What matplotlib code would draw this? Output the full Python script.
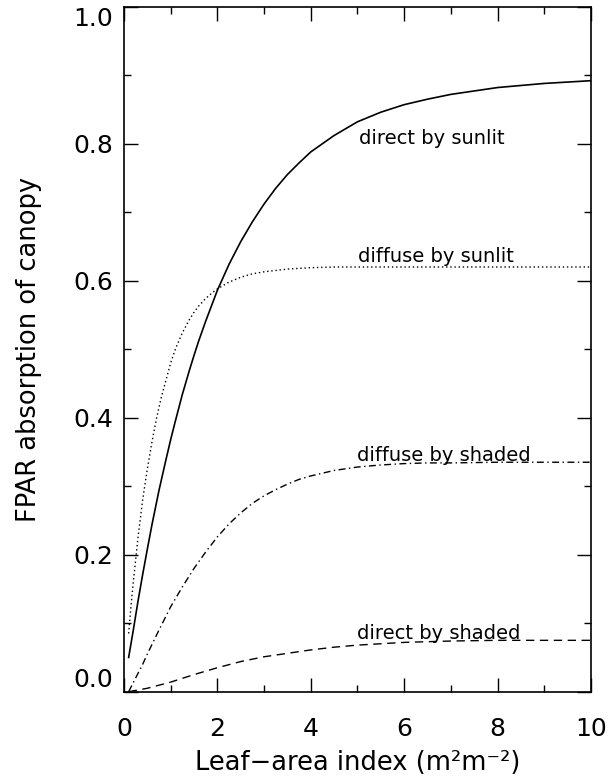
import matplotlib
matplotlib.use('Agg')
import matplotlib.pyplot as plt

# values
lai_dir_sun = [0.1, 0.2, 0.3, 0.4, 0.5, 0.6, 0.75, 0.9, 1.0, 1.1, 1.25, 1.4, 1.5, 1.6, 1.75,
               1.9, 2.0, 2.25, 2.5, 2.75, 3.0, 3.25, 3.5, 3.75, 4.0, 4.5, 5.0, 5.5, 6.0,
               6.5, 7.0, 7.5, 8.0, 8.5, 9.0, 9.5, 10.0]
direct_sunlit = [0.05, 0.09, 0.132, 0.171, 0.208, 0.244, 0.294, 0.339, 0.368, 0.395, 0.434,
                 0.469, 0.491, 0.512, 0.541, 0.568, 0.586, 0.624, 0.657, 0.686, 0.712, 0.735,
                 0.755, 0.772, 0.788, 0.812, 0.832, 0.846, 0.857, 0.865, 0.872, 0.877,
                 0.882, 0.885, 0.888, 0.890, 0.892]

lai_dif_sun = [0.1, 0.15, 0.2, 0.3, 0.4, 0.5, 0.6, 0.7, 0.8, 0.9, 1.0, 1.1, 1.25, 1.4, 1.5,
               1.6, 1.75, 1.9, 2.0, 2.25, 2.5, 2.75, 3.0, 3.5, 4.0, 4.5, 5.0, 6.0, 7.0,
               8.0, 9.0, 10.0]
diffuse_sunlit = [0.085, 0.125, 0.16, 0.225, 0.28, 0.325, 0.365, 0.40, 0.43, 0.455, 0.48,
                  0.50, 0.524, 0.543, 0.554, 0.563, 0.574, 0.583, 0.588, 0.598, 0.605, 0.61,
                  0.613, 0.617, 0.619, 0.62, 0.62, 0.62, 0.62, 0.62, 0.62, 0.62]

lai_dif_sha = [0.1, 0.25, 0.4, 0.5, 0.75, 1.0, 1.25, 1.5, 1.75, 2.0, 2.25, 2.5, 2.75, 3.0,
               3.25, 3.5, 3.75, 4.0, 4.5, 5.0, 5.5, 6.0, 6.5, 7.0, 8.0, 9.0, 10.0]
diffuse_shaded = [0.0, 0.02, 0.04, 0.055, 0.09, 0.124, 0.153, 0.18, 0.204, 0.226, 0.245,
                  0.261, 0.275, 0.286, 0.295, 0.303, 0.31, 0.315, 0.323, 0.328, 0.331, 0.333,
                  0.334, 0.334, 0.335, 0.335, 0.335]

lai_dir_sha = [0.1, 0.5, 1.0, 1.5, 2.0, 2.5, 3.0, 3.5, 4.0, 4.5, 5.0, 5.5, 6.0, 7.0, 8.0,
               9.0, 10.0]
direct_shaded = [0.0, 0.005, 0.014, 0.025, 0.035, 0.044, 0.051, 0.056, 0.061, 0.065, 0.068,
                 0.070, 0.072, 0.074, 0.075, 0.075, 0.075]

labels = ['direct by sunlit', 'diffuse by sunlit', 'diffuse by shaded', 'direct by shaded']
label_x = [5.04, 5.02, 5.0, 5.0]
label_y = [0.80, 0.628, 0.337, 0.077]

xticks = [0, 2, 4, 6, 8, 10]
yticks = [0.0, 0.2, 0.4, 0.6, 0.8, 1.0]

plt.rcParams['font.family'] = ['DejaVu Sans']

fig = plt.figure(figsize=(6.08, 7.8), dpi=100)
ax = fig.add_axes([0.2039, 0.1132, 0.7681, 0.8782])

ax.plot(lai_dir_sun, direct_sunlit, color='black', lw=1.2, ls='-')
ax.plot(lai_dif_sun, diffuse_sunlit, color='black', lw=1.0, ls=(0, (1, 2)))
ax.plot(lai_dif_sha, diffuse_shaded, color='black', lw=1.0, ls=(0, (5, 2.5, 1, 2.5)))
ax.plot(lai_dir_sha, direct_shaded, color='black', lw=1.0, ls=(0, (6, 4)))

for txt, tx, ty in zip(labels, label_x, label_y):
    ax.text(tx, ty, txt, fontsize=14, ha='left', va='baseline')

ax.set_xlim(0, 10)
ax.set_ylim(0, 1.0)
ax.set_xticks(xticks)
ax.set_xticklabels([str(v) for v in xticks])
ax.set_yticks(yticks)
ax.set_yticklabels(['%.1f' % v for v in yticks])
ax.set_xticks([1, 3, 5, 7, 9], minor=True)
ax.set_yticks([0.1, 0.3, 0.5, 0.7, 0.9], minor=True)

ax.tick_params(which='both', direction='in', top=True, right=True, width=1.0, labelsize=18)
ax.tick_params(which='major', length=10)
ax.tick_params(which='minor', length=5)
ax.tick_params(axis='x', pad=18)
ax.tick_params(axis='y', pad=8)
for sp in ax.spines.values():
    sp.set_linewidth(1.2)

# end labels are kept inside the axis span
ylabs = ax.get_yticklabels()
ylabs[0].set_va('bottom')
ylabs[-1].set_va('top')

ax.set_xlabel('Leaf\u2212area index (m\u00b2m\u207b\u00b2)', fontsize=18.5, labelpad=7)
ax.set_ylabel('FPAR absorption of canopy', fontsize=18.5, labelpad=22)

fig.savefig('out.png', dpi=100)
